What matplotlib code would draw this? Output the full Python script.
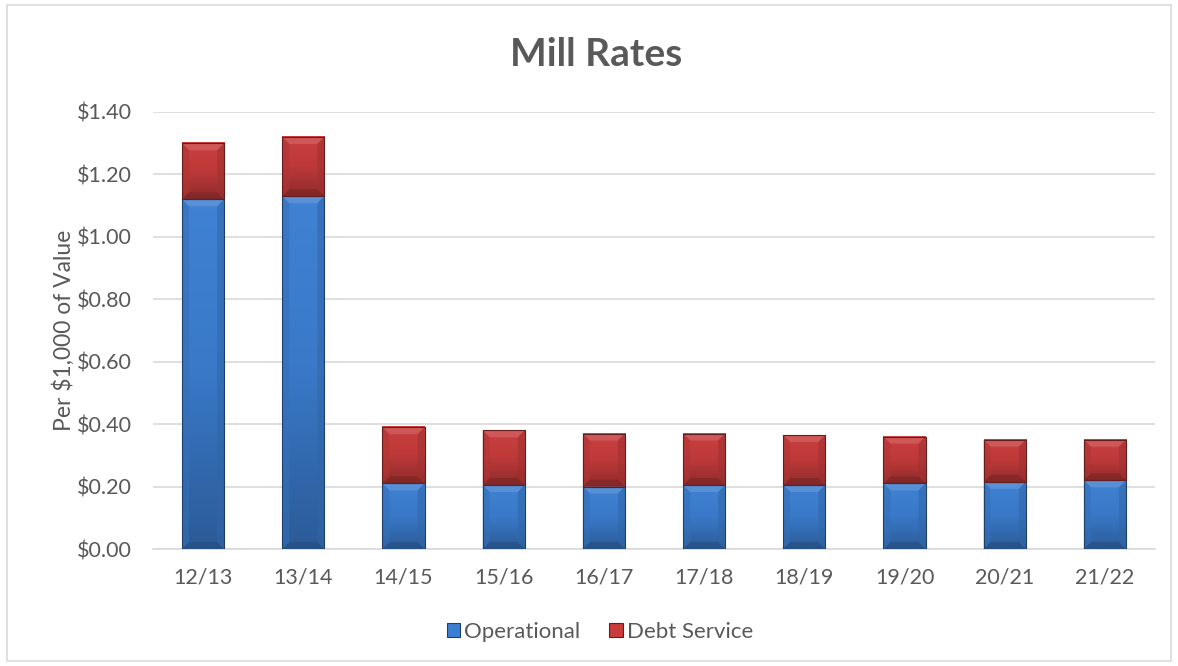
import matplotlib
matplotlib.use("Agg")
from matplotlib import pyplot as plt
from matplotlib.patches import Rectangle, Polygon
from matplotlib.colors import to_rgb, LinearSegmentedColormap
from matplotlib.ticker import FuncFormatter
import numpy as np

years = ["12/13", "13/14", "14/15", "15/16", "16/17", "17/18", "18/19", "19/20", "20/21", "21/22"]
operational = [1.12, 1.13, 0.21, 0.205, 0.20, 0.205, 0.205, 0.21, 0.215, 0.22]
debt_service = [0.18, 0.19, 0.18, 0.175, 0.17, 0.165, 0.16, 0.15, 0.135, 0.13]

BLUE = "#3c7fd2"
RED = "#c83c3c"
TEXT = "#595959"

plt.rcParams["font.family"] = ["Lato", "DejaVu Sans"]


def shade(color, f):
    r, g, b = to_rgb(color)
    if f > 0:
        return (r + (1 - r) * f, g + (1 - g) * f, b + (1 - b) * f)
    return (r * (1 + f), g * (1 + f), b * (1 + f))


def bevel_bar(ax, x, bottom, height, width, color, px):
    # gradient body + bevel trapezoids, px = data units per pixel (x, y)
    x0, x1 = x - width / 2, x + width / 2
    y0, y1 = bottom, bottom + height
    dx, dy = 7 * px[0], 7 * px[1]
    dy = min(dy, height / 2)
    cmap = LinearSegmentedColormap.from_list(
        "g", [shade(color, -0.28), shade(color, -0.05), shade(color, 0.02)])
    grad = np.linspace(0, 1, 128)[::-1].reshape(-1, 1)
    ax.imshow(grad, extent=(x0, x1, y0, y1), aspect="auto", cmap=cmap,
              vmin=0, vmax=1, zorder=3, interpolation="bilinear")
    faces = [
        ([(x0, y1), (x1, y1), (x1 - dx, y1 - dy), (x0 + dx, y1 - dy)], 0.25),
        ([(x0, y0), (x1, y0), (x1 - dx, y0 + dy), (x0 + dx, y0 + dy)], -0.4),
        ([(x0, y0), (x0 + dx, y0 + dy), (x0 + dx, y1 - dy), (x0, y1)], -0.12),
        ([(x1, y0), (x1 - dx, y0 + dy), (x1 - dx, y1 - dy), (x1, y1)], -0.2),
    ]
    for pts, f in faces:
        ax.add_patch(Polygon(pts, closed=True, facecolor=shade(color, f),
                             edgecolor="none", alpha=0.55, zorder=3.5))
    ax.add_patch(Rectangle((x0, y0), width, height, facecolor="none",
                           edgecolor=shade(color, -0.5), lw=0.8, zorder=4))


fig = plt.figure(figsize=(11.78, 6.66), dpi=100)
ax_left, ax_w = 153, 1002
ax = fig.add_axes([ax_left / 1178, 1 - 549 / 666, ax_w / 1178, 437 / 666])

xlim = (-0.5, len(years) - 0.5)
ylim = (0, 1.4)
px = (xlim[1] - xlim[0]) / ax_w, (ylim[1] - ylim[0]) / 437
width = 0.42
for i, (op, ds) in enumerate(zip(operational, debt_service)):
    bevel_bar(ax, i, 0, op, width, BLUE, px)
    bevel_bar(ax, i, op, ds, width, RED, px)

ax.set_xlim(*xlim)
ax.set_ylim(*ylim)
ax.set_yticks(np.arange(0, 1.41, 0.2))
ax.yaxis.set_major_formatter(FuncFormatter(lambda v, p: f"${v:.2f}"))
ax.set_xticks(range(len(years)))
ax.set_xticklabels(years)

ax.grid(axis="y", color="#d9d9d9", lw=1.2, zorder=0)
ax.set_axisbelow(True)
for s in ["top", "right", "left"]:
    ax.spines[s].set_visible(False)
ax.spines["bottom"].set_color("#d9d9d9")
ax.spines["bottom"].set_linewidth(1.2)
ax.tick_params(axis="both", length=0, labelsize=15.5, labelcolor=TEXT)
ax.tick_params(axis="y", pad=15)
ax.tick_params(axis="x", pad=13)

ax.set_ylabel("Per $1,000 of Value", fontsize=16.5, color=TEXT, labelpad=2)
fig.text(596 / 1178, 1 - 55 / 666, "Mill Rates", ha="center", va="center",
         fontsize=28, fontweight="bold", color=TEXT)

# legend
handles = [Rectangle((0, 0), 1, 1, facecolor=BLUE, edgecolor=shade(BLUE, -0.5), lw=0.8),
           Rectangle((0, 0), 1, 1, facecolor=RED, edgecolor=shade(RED, -0.5), lw=0.8)]
fig.legend(handles, ["Operational", "Debt Service"], loc="center",
           bbox_to_anchor=(600 / 1178, 1 - 632 / 666), ncol=2, frameon=False,
           fontsize=16, labelcolor=TEXT, handlelength=0.6, handleheight=0.6,
           handletextpad=0.2, columnspacing=1.3)

# chart area border
fig.patches.append(Rectangle((7 / 1178, 5 / 666), 1 - 14 / 1178, 1 - 10 / 666,
                             transform=fig.transFigure, facecolor="none",
                             edgecolor="#d9d9d9", lw=1.2))

fig.savefig("out.png", dpi=100)
